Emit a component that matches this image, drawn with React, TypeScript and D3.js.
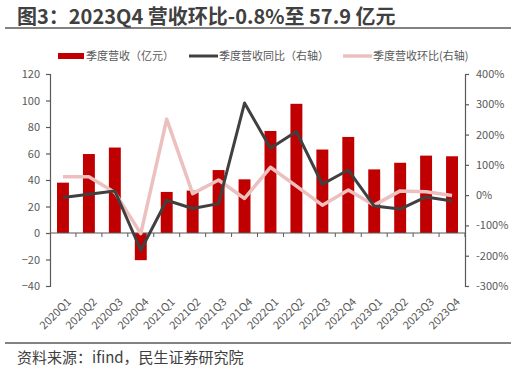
import { useEffect, useRef } from "react";
import * as d3 from "d3";

const quarters = ["2020Q1", "2020Q2", "2020Q3", "2020Q4", "2021Q1", "2021Q2", "2021Q3", "2021Q4",
  "2022Q1", "2022Q2", "2022Q3", "2022Q4", "2023Q1", "2023Q2", "2023Q3", "2023Q4"];
const revenue = [38, 59.6, 64.5, -20.5, 31, 32, 47.5, 40.5, 77, 97.5, 63, 72.5, 48, 53, 58.4, 57.9];
const yoy = [-8, 3, 14, -182, -17, -44, -28, 304, 155, 210, 36, 83, -36, -46, -6, -19];
const qoq = [61, 61, 9, -127, 251, 5, 50, -11, 92, 30, -33, 17, -33, 14, 11, -1];
const leftTicks = [-40, -20, 0, 20, 40, 60, 80, 100, 120];
const rightTicks = [-300, -200, -100, 0, 100, 200, 300, 400];

const W = 516, H = 370;
const margin = { top: 74, right: 51, bottom: 84, left: 50 };
const FONT = "'Noto Sans CJK SC', 'Microsoft YaHei', sans-serif";

const App = () => {
  const svgRef = useRef(null);

  useEffect(() => {
    const svg = d3.select(svgRef.current);
    svg.selectAll("*").remove();

    const x = d3.scaleBand().domain(quarters).range([margin.left, W - margin.right]).paddingInner(0.54).paddingOuter(0.27);
    const yL = d3.scaleLinear().domain([-40, 120]).range([H - margin.bottom, margin.top]);
    const yR = d3.scaleLinear().domain([-300, 400]).range([H - margin.bottom, margin.top]);
    const step = x.step();

    // title
    svg.append("text").attr("x", 17).attr("y", 24).attr("font-size", 20).attr("font-weight", "bold")
      .attr("fill", "#404040").attr("font-family", FONT).text("图3：2023Q4 营收环比-0.8%至 57.9 亿元");
    svg.append("line").attr("x1", 5).attr("x2", 511).attr("y1", 28).attr("y2", 28)
      .attr("stroke", "#595959").attr("stroke-width", 1.5);

    // bars
    svg.append("g").selectAll("rect").data(revenue).join("rect")
      .attr("x", (_, i) => x(quarters[i])!)
      .attr("width", x.bandwidth())
      .attr("y", d => yL(Math.max(0, d)))
      .attr("height", d => Math.abs(yL(d) - yL(0)))
      .attr("fill", "#C00000");

    // x axis at zero
    const xa = svg.append("g").attr("stroke", "#595959");
    xa.append("line").attr("x1", margin.left).attr("x2", W - margin.right)
      .attr("y1", yL(0)).attr("y2", yL(0)).attr("stroke-width", 1.2);
    xa.selectAll("line.t").data(d3.range(1, quarters.length + 1)).join("line").attr("class", "t")
      .attr("x1", i => margin.left + i * step).attr("x2", i => margin.left + i * step)
      .attr("y1", yL(0)).attr("y2", yL(0) + 4);

    // left axis
    svg.append("g").attr("transform", `translate(${margin.left},0)`)
      .call(d3.axisLeft(yL).tickValues(leftTicks).tickSize(4).tickPadding(6))
      .call(g => g.selectAll("line,path").attr("stroke", "#595959").attr("stroke-width", 1.2))
      .call(g => g.selectAll("text").attr("fill", "#595959").attr("font-size", 11).attr("font-family", FONT));

    // right axis
    svg.append("g").attr("transform", `translate(${W - margin.right},0)`)
      .call(d3.axisRight(yR).tickValues(rightTicks).tickSize(4).tickPadding(7).tickFormat(d => `${d}%`))
      .call(g => g.selectAll("line,path").attr("stroke", "#595959").attr("stroke-width", 1.2))
      .call(g => g.selectAll("text").attr("fill", "#595959").attr("font-size", 11).attr("font-family", FONT));

    // lines
    const cx = (i: number) => x(quarters[i])! + x.bandwidth() / 2;
    const line = d3.line<number>().x((_, i) => cx(i)).y(d => yR(d));
    svg.append("path").datum(qoq).attr("d", line).attr("fill", "none")
      .attr("stroke", "#EBC0BF").attr("stroke-width", 3.5).attr("stroke-linejoin", "round");
    svg.append("path").datum(yoy).attr("d", line).attr("fill", "none")
      .attr("stroke", "#404040").attr("stroke-width", 3).attr("stroke-linejoin", "round");

    // x labels
    svg.append("g").selectAll("text").data(quarters).join("text")
      .attr("transform", (_, i) => `translate(${cx(i) + 6},${H - margin.bottom + 14}) rotate(-45)`)
      .attr("text-anchor", "end").attr("dy", "0.35em")
      .attr("font-size", 11).attr("fill", "#595959").attr("font-family", FONT)
      .text(d => d);

    // legend
    const lg = svg.append("g").attr("font-size", 11).attr("fill", "#595959").attr("font-family", FONT);
    lg.append("rect").attr("x", 58).attr("y", 53).attr("width", 26).attr("height", 6).attr("fill", "#C00000");
    lg.append("text").attr("x", 86).attr("y", 60).text("季度营收（亿元）");
    lg.append("line").attr("x1", 189).attr("x2", 218).attr("y1", 56).attr("y2", 56).attr("stroke", "#404040").attr("stroke-width", 3);
    lg.append("text").attr("x", 219).attr("y", 60).text("季度营收同比（右轴）");
    lg.append("line").attr("x1", 343).attr("x2", 372).attr("y1", 56).attr("y2", 56).attr("stroke", "#EBC0BF").attr("stroke-width", 3.5);
    lg.append("text").attr("x", 373).attr("y", 60).text("季度营收环比(右轴)");

    // footer
    svg.append("line").attr("x1", 5).attr("x2", 511).attr("y1", 343).attr("y2", 343)
      .attr("stroke", "#595959").attr("stroke-width", 1.5);
    svg.append("text").attr("x", 17).attr("y", 363).attr("font-size", 15).attr("fill", "#404040")
      .attr("font-family", FONT).text("资料来源：ifind，民生证券研究院");
  }, []);

  return <svg ref={svgRef} width={W} height={H} style={{ position: "absolute", left: 0, top: 0, background: "#fff" }}></svg>;
};

export default App;
